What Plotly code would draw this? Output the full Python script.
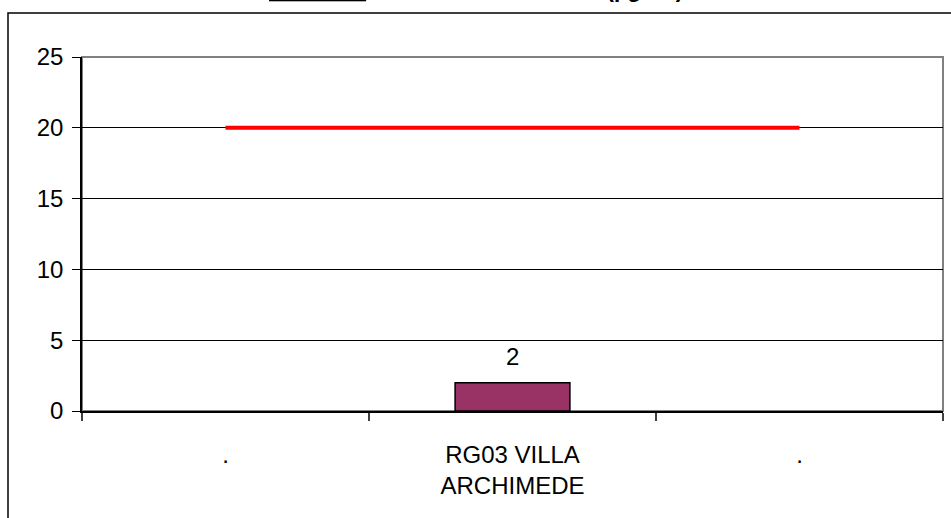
import plotly.graph_objects as go

categories = [".", "RG03 VILLA ARCHIMEDE", ". "]
tick_labels = [".", "RG03 VILLA<br>ARCHIMEDE", "."]
bar_values = [None, 2, None]
limit_values = [20, 20, 20]
y_ticks = [0, 5, 10, 15, 20, 25]

L, R, T, B = 82, 8, 57, 107
W, H = 951, 518
pw, ph = W - L - R, H - T - B

def px_x(p):
    return (p - L) / pw

def px_y(p):
    return (H - B - p) / ph

FONT = "Liberation Sans, Arial"

fig = go.Figure()
fig.add_trace(go.Bar(
    x=categories, y=bar_values,
    marker=dict(color="#993366", line=dict(color="black", width=1.5)),
    width=0.4, showlegend=False, hoverinfo="skip",
))
fig.add_trace(go.Scatter(
    x=categories, y=limit_values, mode="lines",
    line=dict(color="#FF0000", width=4), showlegend=False,
))

for c, v in zip(categories, bar_values):
    if v is not None:
        fig.add_annotation(x=c, y=v, text=str(v), showarrow=False,
                           yanchor="bottom", yshift=11,
                           font=dict(family=FONT, size=24, color="black"))

# title, clipped at the top edge as in the reference
fig.add_annotation(xref="paper", yref="paper", x=px_x(476), y=px_y(3.5),
                   xanchor="center", yanchor="bottom", showarrow=False,
                   text="<b><u>Biossido</u> di zolfo media annua (µg/m³)</b>",
                   font=dict(family=FONT, size=23, color="black"))

# plot area border (gray) and outer frame
fig.add_shape(type="rect", xref="paper", yref="paper", x0=0, x1=1, y0=0, y1=1,
              line=dict(color="#808080", width=2), layer="below")
fig.add_shape(type="rect", xref="paper", yref="paper",
              x0=px_x(8), x1=px_x(1000), y0=px_y(600), y1=px_y(13),
              line=dict(color="black", width=1.5), layer="below")

fig.update_layout(
    width=W, height=H,
    margin=dict(l=L, r=R, t=T, b=B),
    paper_bgcolor="white", plot_bgcolor="white",
    font=dict(family=FONT, size=24, color="black"),
    bargap=0.6,
)
fig.update_xaxes(
    type="category", categoryorder="array", categoryarray=categories,
    tickvals=categories, ticktext=tick_labels,
    tickson="boundaries", ticks="outside", ticklen=8, tickcolor="#404040", tickwidth=1.5,
    showline=True, linecolor="black", linewidth=1.5,
    showgrid=False, range=[-0.5, 2.5], ticklabelstandoff=21,
)
fig.update_yaxes(
    range=[0, 25], tickvals=y_ticks, ticks="outside", ticklen=8,
    tickcolor="black", tickwidth=1,
    showline=True, linecolor="black", linewidth=1.5,
    showgrid=True, gridcolor="black", gridwidth=1, zeroline=False,
    ticklabelstandoff=4,
)

fig.write_html("out.html", config={"displayModeBar": False},
               post_script="document.body.style.margin='0';document.body.style.overflow='hidden';")
